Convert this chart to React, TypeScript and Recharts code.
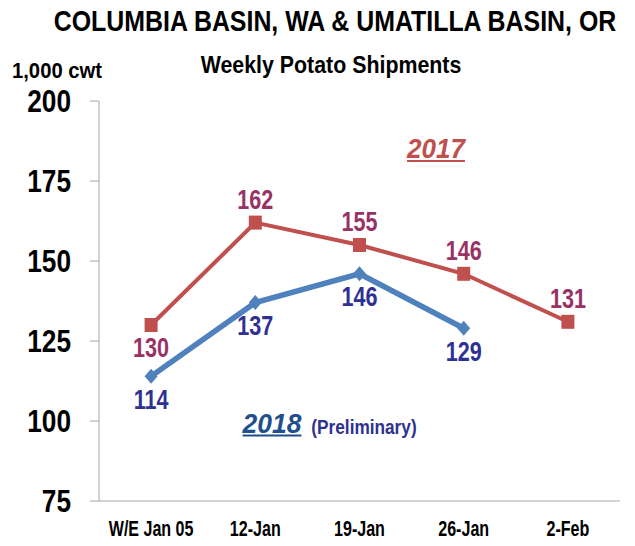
import React from 'react';
import { LineChart, Line, XAxis, YAxis, LabelList } from 'recharts';

const weeks = ['W/E Jan 05', '12-Jan', '19-Jan', '26-Jan', '2-Feb'];
const ship2017 = [130, 162, 155, 146, 131];
const ship2018: (number | null)[] = [114, 137, 146, 129, null];
const yTicks = [75, 100, 125, 150, 175, 200];
const bandTicks = [0, 1, 2, 3, 4, 5];

const data = weeks.map((w, i) => ({ week: w, y2017: ship2017[i], y2018: ship2018[i] }));

const FONT = "'Liberation Sans', Arial, sans-serif";
const RED = '#C0504D';
const BLUE = '#4F81BD';
const LBL17 = '#993264';
const LBL18 = '#2E3192';
const AXIS = '#A6A6A6';

const SquareDot = (props: any) => {
  const { cx, cy, index } = props;
  if (cx == null || cy == null) return <g key={`s${index}`} />;
  return <rect key={`s${index}`} x={cx - 6.5} y={cy - 7} width={13} height={14} fill={RED} />;
};

const DiamondDot = (props: any) => {
  const { cx, cy, index } = props;
  if (cx == null || cy == null) return <g key={`d${index}`} />;
  const rx = 6.5;
  const ry = 7.5;
  return (
    <polygon
      key={`d${index}`}
      points={`${cx},${cy - ry} ${cx + rx},${cy} ${cx},${cy + ry} ${cx - rx},${cy}`}
      fill={BLUE}
    />
  );
};

const SText = ({ x, y, sx, children, ...rest }: any) => (
  <text x={0} y={0} transform={`translate(${x},${y}) scale(${sx},1)`} fontFamily={FONT} fontWeight="bold" {...rest}>
    {children}
  </text>
);

const label17 = (props: any) => {
  const { x, y, value, index } = props;
  if (value == null) return null;
  const dy = index === 0 ? 23 : -23;
  return (
    <SText key={`l17${index}`} x={x} y={y + dy} sx={0.8} textAnchor="middle" dominantBaseline="central"
      fill={LBL17} fontSize={27}>
      {value}
    </SText>
  );
};

const label18 = (props: any) => {
  const { x, y, value, index } = props;
  if (value == null) return null;
  return (
    <SText key={`l18${index}`} x={x} y={y + 23} sx={0.8} textAnchor="middle" dominantBaseline="central"
      fill={LBL18} fontSize={27}>
      {value}
    </SText>
  );
};

const YTick = (props: any) => {
  const { x, y, payload } = props;
  return (
    <SText x={x} y={y} sx={0.82} textAnchor="end" dominantBaseline="central" fill="#000" fontSize={32}>
      {payload.value}
    </SText>
  );
};

const XTick = (props: any) => {
  const { x, y, payload } = props;
  return (
    <SText x={x} y={y} sx={0.73} textAnchor="middle" dy="0.71em" fill="#000" fontSize={22}>
      {payload.value}
    </SText>
  );
};

const abs = (x: number, y: number, sx: number): React.CSSProperties => ({
  position: 'absolute',
  left: x - 8,
  top: y - 8,
  transform: `translate(-50%, -50%) scale(${sx}, 1)`,
  whiteSpace: 'nowrap',
  fontFamily: FONT,
  fontWeight: 'bold',
  lineHeight: 1,
});

export default function App() {
  return (
    <div style={{ position: 'relative', width: 627, height: 538 }}>
      <LineChart
        width={627}
        height={538}
        data={data}
        margin={{ top: 93, right: 15, left: 0, bottom: 0 }}
      >
        <XAxis
          xAxisId="band"
          type="number"
          domain={[0, 5]}
          ticks={bandTicks}
          allowDataOverflow
          tick={false}
          axisLine={false}
          tickLine={{ stroke: AXIS, strokeWidth: 1 }}
          tickSize={7}
          height={0}
        />
        <XAxis
          xAxisId="cat"
          dataKey="week"
          type="category"
          scale="band"
          axisLine={{ stroke: AXIS, strokeWidth: 1 }}
          tickLine={false}
          tickSize={7}
          tickMargin={12}
          height={45}
          interval={0}
          tick={XTick}
        />
        <YAxis
          domain={[75, 200]}
          ticks={yTicks}
          width={91}
          axisLine={{ stroke: AXIS, strokeWidth: 1 }}
          tickLine={{ stroke: AXIS, strokeWidth: 1 }}
          tickSize={9}
          tickMargin={19}
          tick={YTick}
        />
        <Line
          xAxisId="cat"
          dataKey="y2017"
          stroke={RED}
          strokeWidth={4}
          dot={SquareDot}
          activeDot={false}
          isAnimationActive={false}
        >
          <LabelList dataKey="y2017" content={label17} />
        </Line>
        <Line
          xAxisId="cat"
          dataKey="y2018"
          stroke={BLUE}
          strokeWidth={5.5}
          dot={DiamondDot}
          activeDot={false}
          isAnimationActive={false}
        >
          <LabelList dataKey="y2018" content={label18} />
        </Line>
      </LineChart>

      <div style={{ ...abs(335, 21, 0.83), fontSize: 30, color: '#000' }}>
        COLUMBIA BASIN, WA &amp; UMATILLA BASIN, OR
      </div>
      <div style={{ ...abs(331, 65, 0.89), fontSize: 24, color: '#000' }}>Weekly Potato Shipments</div>
      <div style={{ ...abs(57, 71, 0.92), fontSize: 22, color: '#000' }}>1,000 cwt</div>
      <div style={{ ...abs(436, 149, 0.93), fontSize: 28, color: RED, fontStyle: 'italic', textDecoration: 'underline' }}>
        2017
      </div>
      <div style={{ ...abs(272, 424, 0.98), fontSize: 27, color: '#1F4E8C', fontStyle: 'italic', textDecoration: 'underline' }}>
        2018
      </div>
      <div style={{ ...abs(364, 426, 0.82), fontSize: 21, color: LBL18 }}>(Preliminary)</div>
    </div>
  );
}
